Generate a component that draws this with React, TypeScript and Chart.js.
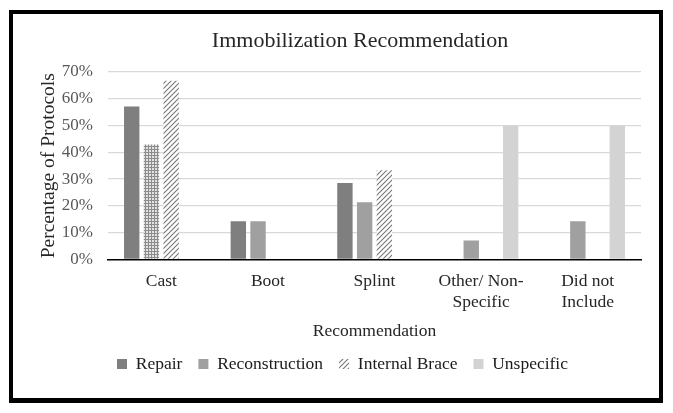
import React, { useEffect, useRef } from "react";
import { Chart, registerables } from "chart.js";

Chart.register(...registerables);

const categories: (string | string[])[] = [
  "Cast",
  "Boot",
  "Splint",
  ["Other/ Non-", "Specific"],
  ["Did not", "Include"],
];
const seriesNames = ["Repair", "Reconstruction", "Internal Brace", "Unspecific"];
const repair = [57.1, 14.3, 28.6, 0, 0];
const reconstruction = [42.9, 14.3, 21.4, 7.1, 14.3];
const internalBrace = [66.7, 0, 33.3, 0, 0];
const unspecific = [0, 0, 0, 50, 50];
const yTickValues = [0, 10, 20, 30, 40, 50, 60, 70];

const SERIF = "'Liberation Serif', 'Times New Roman', 'DejaVu Serif', serif";

function makeHatch(ctx: CanvasRenderingContext2D): CanvasPattern | string {
  const c = document.createElement("canvas");
  c.width = 5;
  c.height = 5;
  const g = c.getContext("2d");
  if (!g) return "#bbbbbb";
  g.fillStyle = "#ffffff";
  g.fillRect(0, 0, 5, 5);
  g.strokeStyle = "#777777";
  g.lineWidth = 1.1;
  g.beginPath();
  g.moveTo(-1, 6);
  g.lineTo(6, -1);
  g.moveTo(-1, 1);
  g.lineTo(1, -1);
  g.moveTo(4, 6);
  g.lineTo(6, 4);
  g.stroke();
  return ctx.createPattern(c, "repeat") || "#bbbbbb";
}

function makeDots(ctx: CanvasRenderingContext2D): CanvasPattern | string {
  const c = document.createElement("canvas");
  c.width = 3;
  c.height = 3;
  const g = c.getContext("2d");
  if (!g) return "#a8a8a8";
  g.fillStyle = "#e2e2e2";
  g.fillRect(0, 0, 3, 3);
  g.fillStyle = "#8c8c8c";
  g.fillRect(0, 0, 3, 1);
  g.fillRect(0, 0, 1, 3);
  return ctx.createPattern(c, "repeat") || "#a8a8a8";
}

const legendFills = ["#7f7f7f", "#a0a0a0", null, "#d3d3d3"];

const shiftPlugin = {
  id: "shiftBoxes",
  afterLayout(chart: any) {
    const t = chart.titleBlock;
    if (t) {
      t.left += 33;
      t.right += 33;
    }
    const l = chart.legend;
    if (l) {
      l.left += 15.5;
      l.right += 15.5;
    }
  },
};

export default function App() {
  const canvasRef = useRef<HTMLCanvasElement | null>(null);

  useEffect(() => {
    const canvas = canvasRef.current;
    if (!canvas) return;
    const ctx = canvas.getContext("2d");
    if (!ctx) return;
    const hatch = makeHatch(ctx);
    const dots = makeDots(ctx);

    const chart = new Chart(ctx, {
      type: "bar",
      data: {
        labels: categories as any,
        datasets: [
          {
            label: seriesNames[0],
            data: repair,
            backgroundColor: "#7f7f7f",
            borderWidth: 0,
          },
          {
            label: seriesNames[1],
            data: reconstruction,
            backgroundColor: reconstruction.map((_, i) => (i === 0 ? dots : "#a0a0a0")) as any,
            borderWidth: 0,
          },
          {
            label: seriesNames[2],
            data: internalBrace,
            backgroundColor: hatch as any,
            borderWidth: 0,
          },
          {
            label: seriesNames[3],
            data: unspecific,
            backgroundColor: "#d3d3d3",
            borderWidth: 0,
          },
        ],
      },
      options: {
        animation: false,
        responsive: false,
        devicePixelRatio: 1,
        datasets: {
          bar: {
            categoryPercentage: 0.74,
            barPercentage: 0.78,
          },
        },
        layout: {
          padding: { left: 0, right: 18, top: 0, bottom: 15.25 },
        },
        plugins: {
          title: {
            display: true,
            text: "Immobilization Recommendation",
            color: "#262626",
            font: { family: SERIF, size: 22, weight: "normal" as any },
            padding: { top: 14.3, bottom: 17.3 },
          },
          legend: {
            position: "bottom",
            labels: {
              boxWidth: 10,
              boxHeight: 10,
              padding: 16,
              color: "#1a1a1a",
              font: { family: SERIF, size: 17.5 },
              generateLabels: (ch: any) => {
                const items = Chart.defaults.plugins.legend.labels.generateLabels(ch);
                return items.map((it: any, i: number) => ({
                  ...it,
                  fillStyle: legendFills[i] ?? hatch,
                  lineWidth: 0,
                  strokeStyle: "rgba(0,0,0,0)",
                }));
              },
            },
          },
          tooltip: { enabled: false },
        },
        scales: {
          x: {
            afterFit: (s: any) => {
              s.height = 79.75;
            },
            grid: { display: false, drawTicks: false },
            border: { display: true, color: "#000000", width: 1.5 },
            ticks: {
              padding: 11,
              color: "#262626",
              font: { family: SERIF, size: 17.5 },
              maxRotation: 0,
              minRotation: 0,
              autoSkip: false,
            },
            title: {
              display: true,
              text: "Recommendation",
              color: "#262626",
              font: { family: SERIF, size: 17.5 },
              padding: { top: 9, bottom: -3 },
            },
          },
          y: {
            min: 0,
            max: 70,
            afterFit: (s: any) => {
              s.width = 95;
            },
            afterBuildTicks: (s: any) => {
              s.ticks = yTickValues.map((v) => ({ value: v }));
            },
            ticks: {
              padding: 15,
              color: "#595959",
              font: { family: SERIF, size: 17 },
              callback: (v: any) => `${v}%`,
            },
            grid: {
              drawTicks: false,
              lineWidth: 1.3,
              color: (c: any) =>
                c.tick && c.tick.value === 0 ? "rgba(0,0,0,0)" : "#d9d9d9",
            },
            border: { display: false },
            title: {
              display: true,
              text: "Percentage of Protocols",
              color: "#262626",
              font: { family: SERIF, size: 19.5 },
              padding: { top: 24.3, bottom: 0 },
            },
          },
        },
      },
      plugins: [shiftPlugin],
    });

    return () => {
      chart.destroy();
    };
  }, []);

  return (
    <div
      style={{
        marginLeft: 1,
        marginTop: 2,
        width: 654,
        height: 393,
        boxSizing: "border-box",
        border: "4px solid #000",
        borderBottomWidth: 5,
        background: "#fff",
      }}
    >
      <canvas
        ref={canvasRef}
        width={646}
        height={384}
        style={{ display: "block", width: 646, height: 384 }}
      />
    </div>
  );
}
